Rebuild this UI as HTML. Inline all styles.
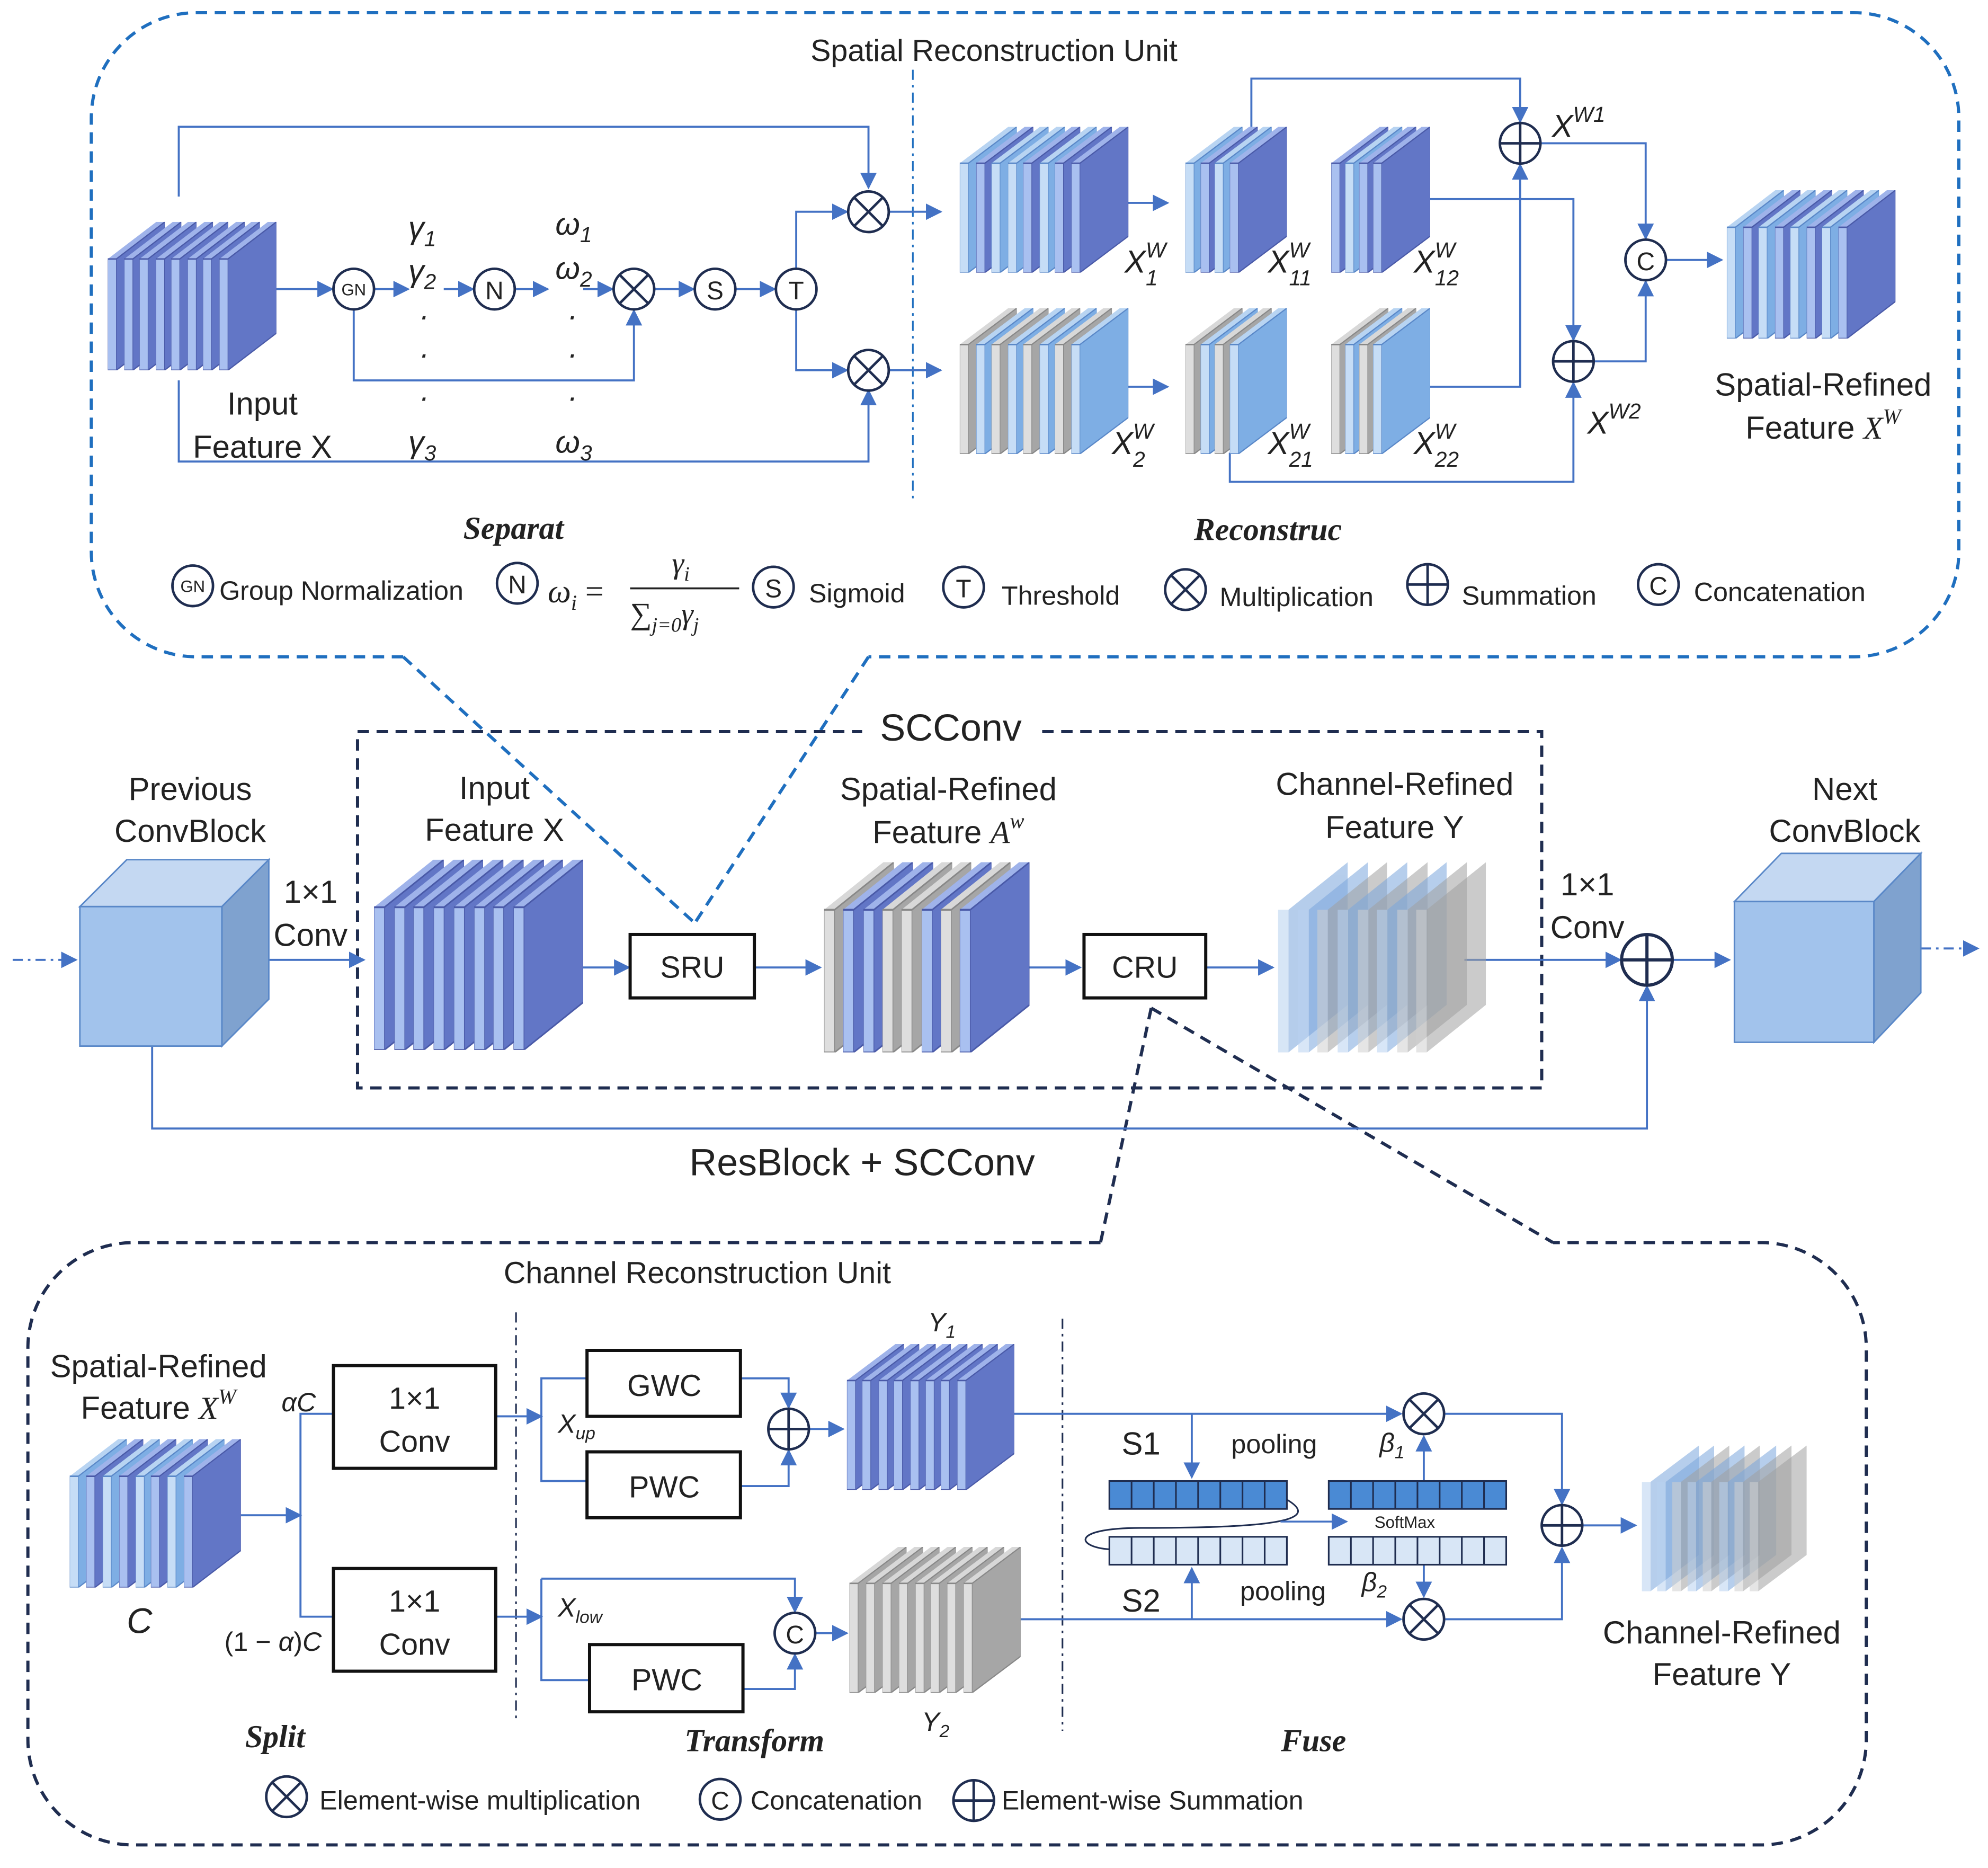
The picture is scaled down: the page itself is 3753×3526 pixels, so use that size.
<!DOCTYPE html>
<html><head><meta charset="utf-8"><style>html,body{margin:0;padding:0;background:#fff}svg{display:block}text{font-family:"Liberation Sans",sans-serif;fill:#222}.m{font-family:"Liberation Serif",serif;font-style:italic}.b{font-family:"Liberation Serif",serif;font-style:italic;font-weight:bold}</style></head><body>
<svg xmlns="http://www.w3.org/2000/svg" width="3753" height="3526" viewBox="0 0 1568 1473.2" preserveAspectRatio="none">
<defs>
<marker id="a" viewBox="0 0 10 10" refX="9" refY="5" markerWidth="13" markerHeight="13" markerUnits="userSpaceOnUse" orient="auto"><path d="M0,0L10,5L0,10z" fill="#4472c4"/></marker>
<symbol id="B" viewBox="0 0 100 100" preserveAspectRatio="none"><polygon points="0,25 85,0 100,0 15,25" fill="#9fb3ea"/><polygon points="15,25 100,0 100,75 15,100" fill="#6276c6" stroke="#4a5aa8" stroke-width="1"/><polygon points="0,25 15,25 15,100 0,100" fill="#a9c0f0" stroke="#4a5aa8" stroke-width="1"/></symbol>
<symbol id="L" viewBox="0 0 100 100" preserveAspectRatio="none"><polygon points="0,25 85,0 100,0 15,25" fill="#b8d4f2"/><polygon points="15,25 100,0 100,75 15,100" fill="#7eaee4" stroke="#5a88c8" stroke-width="1"/><polygon points="0,25 15,25 15,100 0,100" fill="#c6ddf6" stroke="#5a88c8" stroke-width="1"/></symbol>
<symbol id="G" viewBox="0 0 100 100" preserveAspectRatio="none"><polygon points="0,25 85,0 100,0 15,25" fill="#d8d8d8"/><polygon points="15,25 100,0 100,75 15,100" fill="#a6a6a6" stroke="#888" stroke-width="1"/><polygon points="0,25 15,25 15,100 0,100" fill="#dedede" stroke="#888" stroke-width="1"/></symbol>
<symbol id="T" viewBox="0 0 100 100" preserveAspectRatio="none"><g opacity="0.55"><polygon points="15,25 100,0 100,75 15,100" fill="#7aa6dc"/><polygon points="0,25 15,25 15,100 0,100" fill="#b8d2f0"/></g></symbol>
<symbol id="U" viewBox="0 0 100 100" preserveAspectRatio="none"><g opacity="0.55"><polygon points="15,25 100,0 100,75 15,100" fill="#a0a0a0"/><polygon points="0,25 15,25 15,100 0,100" fill="#d0d0d0"/></g></symbol>
<g id="ot"><circle r="16" fill="#fff" stroke="#1f2d50" stroke-width="2"/><path d="M-11,-11L11,11M11,-11L-11,11" stroke="#1f2d50" stroke-width="2"/></g>
<g id="op"><circle r="16" fill="#fff" stroke="#1f2d50" stroke-width="2"/><path d="M-16,0H16M0,-16V16" stroke="#1f2d50" stroke-width="2"/></g>
<g id="ci"><circle r="16" fill="#fff" stroke="#1f2d50" stroke-width="2"/></g>
</defs>

<!-- dashed frames -->
<g fill="none" stroke="#1f6fbf" stroke-width="2.5" stroke-dasharray="9,6">
<path d="M318,518H155A83,83 0 0 1 72,435V93A83,83 0 0 1 155,10H1462A83,83 0 0 1 1545,93V435A83,83 0 0 1 1462,518H685"/>
<path d="M318,518L548,728M685,518L548,728"/>
</g>
<g fill="none" stroke="#1f2d50" stroke-width="2.5" stroke-dasharray="9,6">
<path d="M868,980H105A83,83 0 0 0 22,1063V1372A83,83 0 0 0 105,1455H1390A83,83 0 0 0 1472,1372V1063A83,83 0 0 0 1390,980H1225"/>
<path d="M908,795L868,980M908,795L1225,980"/>
</g>
<rect x="282" y="577" width="934" height="281" fill="none" stroke="#1f2d50" stroke-width="2.5" stroke-dasharray="9,6"/>
<rect x="680" y="552" width="140" height="40" fill="#fff"/>
<text x="750" y="584" font-size="30" text-anchor="middle">SCConv</text>

<text x="784" y="48" font-size="24" text-anchor="middle">Spatial Reconstruction Unit</text>
<text x="550" y="1012" font-size="24" text-anchor="middle">Channel Reconstruction Unit</text>

<!-- dash-dot separators -->
<g stroke="#1f6fbf" stroke-width="1.3" stroke-dasharray="8,4,2,4"><path d="M720,55V395"/></g>
<g stroke="#1f2d50" stroke-width="1.3" stroke-dasharray="8,4,2,4"><path d="M407,1035V1355M838,1040V1365"/></g>

<!-- connectors -->
<g fill="none" stroke="#4472c4" stroke-width="1.6">
<!-- top SRU -->
<path d="M141,155V100H685V148" marker-end="url(#a)"/>
<path d="M141,300V364H685V308" marker-end="url(#a)"/>
<path d="M218,228H262" marker-end="url(#a)"/>
<path d="M295,228H322" marker-end="url(#a)"/>
<path d="M350,228H373" marker-end="url(#a)"/>
<path d="M407,228H432" marker-end="url(#a)"/>
<path d="M460,228H483" marker-end="url(#a)"/>
<path d="M516,228H547" marker-end="url(#a)"/>
<path d="M580,228H611" marker-end="url(#a)"/>
<path d="M279,244V300H500V245" marker-end="url(#a)"/>
<path d="M628,212V167H668" marker-end="url(#a)"/>
<path d="M628,244V292H668" marker-end="url(#a)"/>
<path d="M701,167H742" marker-end="url(#a)"/>
<path d="M701,292H742" marker-end="url(#a)"/>
<path d="M875,160H921" marker-end="url(#a)"/>
<path d="M875,305H921" marker-end="url(#a)"/>
<path d="M987,100V62H1199V96" marker-end="url(#a)"/>
<path d="M1128,157H1241V268" marker-end="url(#a)"/>
<path d="M1128,305H1199V130" marker-end="url(#a)"/>
<path d="M970,357V380H1241V302" marker-end="url(#a)"/>
<path d="M1215,113H1298V188" marker-end="url(#a)"/>
<path d="M1257,285H1298V222" marker-end="url(#a)"/>
<path d="M1314,205H1358" marker-end="url(#a)"/>
<!-- middle -->
<path d="M10,757H60" stroke-dasharray="8,4,2,4" marker-end="url(#a)"/>
<path d="M212,757H287" marker-end="url(#a)"/>
<path d="M443,763H496" marker-end="url(#a)"/>
<path d="M595,763H647" marker-end="url(#a)"/>
<path d="M797,763H852" marker-end="url(#a)"/>
<path d="M951,763H1004" marker-end="url(#a)"/>
<path d="M1155,757H1278" marker-end="url(#a)"/>
<path d="M1320,757H1364" marker-end="url(#a)"/>
<path d="M1515,748H1560" stroke-dasharray="8,4,2,4" marker-end="url(#a)"/>
<path d="M120,825V890H1299V778" marker-end="url(#a)"/>
<!-- bottom CRU -->
<path d="M190,1195H237" marker-end="url(#a)"/>
<path d="M263,1115H237V1275H263"/>
<path d="M391,1117H427" marker-end="url(#a)"/>
<path d="M391,1275H427" marker-end="url(#a)"/>
<path d="M463,1087H427V1168H463"/>
<path d="M584,1087H622V1110" marker-end="url(#a)"/>
<path d="M584,1172H622V1144" marker-end="url(#a)"/>
<path d="M638,1127H665" marker-end="url(#a)"/>
<path d="M427,1245H627V1271" marker-end="url(#a)"/>
<path d="M427,1245V1325H465"/>
<path d="M586,1332H627V1305" marker-end="url(#a)"/>
<path d="M643,1288H668" marker-end="url(#a)"/>
<path d="M800,1115H1105" marker-end="url(#a)"/>
<path d="M805,1277H1105" marker-end="url(#a)"/>
<path d="M940,1115V1165" marker-end="url(#a)"/>
<path d="M940,1277V1237" marker-end="url(#a)"/>
<path d="M1123,1168V1133" marker-end="url(#a)"/>
<path d="M1123,1234V1259" marker-end="url(#a)"/>
<path d="M1140,1115H1232V1186" marker-end="url(#a)"/>
<path d="M1140,1277H1232V1221" marker-end="url(#a)"/>
<path d="M1248,1203H1290" marker-end="url(#a)"/>
</g>
<path d="M1010,1180C1050,1200 1000,1205 900,1205C840,1205 850,1222 880,1222" fill="none" stroke="#1f2d50" stroke-width="1.3"/>
<path d="M1010,1200H1062" stroke="#4472c4" stroke-width="1.5" marker-end="url(#a)"/>

<!-- stacks -->
<g>
<use href="#B" x="85" y="175" width="45" height="117"/><use href="#B" x="98" y="175" width="45" height="117"/><use href="#B" x="110" y="175" width="45" height="117"/><use href="#B" x="123" y="175" width="45" height="117"/><use href="#B" x="135" y="175" width="45" height="117"/><use href="#B" x="148" y="175" width="45" height="117"/><use href="#B" x="160" y="175" width="45" height="117"/><use href="#B" x="173" y="175" width="45" height="117"/>

<use href="#L" x="757" y="100" width="45" height="115"/><use href="#B" x="770" y="100" width="45" height="115"/><use href="#L" x="782" y="100" width="45" height="115"/><use href="#L" x="795" y="100" width="45" height="115"/><use href="#B" x="807" y="100" width="45" height="115"/><use href="#L" x="820" y="100" width="45" height="115"/><use href="#B" x="832" y="100" width="45" height="115"/><use href="#B" x="845" y="100" width="45" height="115"/>
<use href="#L" x="935" y="100" width="45" height="115"/><use href="#B" x="947" y="100" width="45" height="115"/><use href="#L" x="958" y="100" width="45" height="115"/><use href="#B" x="970" y="100" width="45" height="115"/>
<use href="#B" x="1050" y="100" width="45" height="115"/><use href="#L" x="1061" y="100" width="45" height="115"/><use href="#B" x="1072" y="100" width="45" height="115"/><use href="#B" x="1083" y="100" width="45" height="115"/>

<use href="#G" x="757" y="243" width="45" height="115"/><use href="#L" x="770" y="243" width="45" height="115"/><use href="#G" x="782" y="243" width="45" height="115"/><use href="#L" x="795" y="243" width="45" height="115"/><use href="#G" x="807" y="243" width="45" height="115"/><use href="#L" x="820" y="243" width="45" height="115"/><use href="#G" x="832" y="243" width="45" height="115"/><use href="#L" x="845" y="243" width="45" height="115"/>
<use href="#G" x="935" y="243" width="45" height="115"/><use href="#L" x="947" y="243" width="45" height="115"/><use href="#G" x="958" y="243" width="45" height="115"/><use href="#L" x="970" y="243" width="45" height="115"/>
<use href="#G" x="1050" y="243" width="45" height="115"/><use href="#L" x="1061" y="243" width="45" height="115"/><use href="#G" x="1072" y="243" width="45" height="115"/><use href="#L" x="1083" y="243" width="45" height="115"/>

<use href="#L" x="1362" y="150" width="45" height="117"/><use href="#B" x="1375" y="150" width="45" height="117"/><use href="#L" x="1387" y="150" width="45" height="117"/><use href="#B" x="1400" y="150" width="45" height="117"/><use href="#L" x="1412" y="150" width="45" height="117"/><use href="#B" x="1425" y="150" width="45" height="117"/><use href="#L" x="1437" y="150" width="45" height="117"/><use href="#B" x="1450" y="150" width="45" height="117"/>

<use href="#B" x="295" y="678" width="55" height="150"/><use href="#B" x="311" y="678" width="55" height="150"/><use href="#B" x="326" y="678" width="55" height="150"/><use href="#B" x="342" y="678" width="55" height="150"/><use href="#B" x="358" y="678" width="55" height="150"/><use href="#B" x="374" y="678" width="55" height="150"/><use href="#B" x="389" y="678" width="55" height="150"/><use href="#B" x="405" y="678" width="55" height="150"/>

<use href="#G" x="650" y="680" width="55" height="150"/><use href="#B" x="665" y="680" width="55" height="150"/><use href="#B" x="681" y="680" width="55" height="150"/><use href="#G" x="696" y="680" width="55" height="150"/><use href="#G" x="711" y="680" width="55" height="150"/><use href="#B" x="727" y="680" width="55" height="150"/><use href="#G" x="742" y="680" width="55" height="150"/><use href="#B" x="757" y="680" width="55" height="150"/>

<use href="#T" x="1008" y="680" width="55" height="150"/><use href="#T" x="1024" y="680" width="55" height="150"/><use href="#U" x="1039" y="680" width="55" height="150"/><use href="#T" x="1055" y="680" width="55" height="150"/><use href="#U" x="1071" y="680" width="55" height="150"/><use href="#T" x="1086" y="680" width="55" height="150"/><use href="#U" x="1102" y="680" width="55" height="150"/><use href="#U" x="1117" y="680" width="55" height="150"/>

<use href="#L" x="55" y="1135" width="45" height="117"/><use href="#B" x="68" y="1135" width="45" height="117"/><use href="#L" x="81" y="1135" width="45" height="117"/><use href="#B" x="94" y="1135" width="45" height="117"/><use href="#L" x="107" y="1135" width="45" height="117"/><use href="#B" x="119" y="1135" width="45" height="117"/><use href="#L" x="132" y="1135" width="45" height="117"/><use href="#B" x="145" y="1135" width="45" height="117"/>

<use href="#B" x="668" y="1060" width="45" height="115"/><use href="#B" x="680" y="1060" width="45" height="115"/><use href="#B" x="693" y="1060" width="45" height="115"/><use href="#B" x="705" y="1060" width="45" height="115"/><use href="#B" x="718" y="1060" width="45" height="115"/><use href="#B" x="730" y="1060" width="45" height="115"/><use href="#B" x="742" y="1060" width="45" height="115"/><use href="#B" x="755" y="1060" width="45" height="115"/>

<use href="#G" x="670" y="1220" width="45" height="115"/><use href="#G" x="683" y="1220" width="45" height="115"/><use href="#G" x="696" y="1220" width="45" height="115"/><use href="#G" x="709" y="1220" width="45" height="115"/><use href="#G" x="722" y="1220" width="45" height="115"/><use href="#G" x="734" y="1220" width="45" height="115"/><use href="#G" x="747" y="1220" width="45" height="115"/><use href="#G" x="760" y="1220" width="45" height="115"/>

<use href="#T" x="1295" y="1140" width="45" height="115"/><use href="#T" x="1307" y="1140" width="45" height="115"/><use href="#U" x="1319" y="1140" width="45" height="115"/><use href="#T" x="1331" y="1140" width="45" height="115"/><use href="#U" x="1343" y="1140" width="45" height="115"/><use href="#T" x="1356" y="1140" width="45" height="115"/><use href="#U" x="1368" y="1140" width="45" height="115"/><use href="#U" x="1380" y="1140" width="45" height="115"/>
</g>

<!-- cubes -->
<g stroke="#5a88c8" stroke-width="1.2">
<polygon points="63,715 100,678 212,678 175,715" fill="#c4d8f2"/>
<polygon points="175,715 212,678 212,788 175,825" fill="#7fa2cf"/>
<rect x="63" y="715" width="112" height="110" fill="#a2c3ec"/>
<polygon points="1368,711 1405,673 1515,673 1478,711" fill="#c4d8f2"/>
<polygon points="1478,711 1515,673 1515,783 1478,822" fill="#7fa2cf"/>
<rect x="1368" y="711" width="110" height="111" fill="#a2c3ec"/>
</g>

<!-- boxes -->
<g fill="#fff" stroke="#111" stroke-width="2.5">
<rect x="497" y="737" width="98" height="50"/><rect x="855" y="737" width="96" height="50"/>
<rect x="263" y="1077" width="128" height="81"/><rect x="263" y="1237" width="128" height="81"/>
<rect x="463" y="1065" width="121" height="52"/><rect x="463" y="1145" width="121" height="52"/>
<rect x="465" y="1297" width="121" height="53"/>
</g>
<g font-size="24" text-anchor="middle">
<text x="546" y="771">SRU</text><text x="903" y="771">CRU</text>
<text x="327" y="1111">1×1</text><text x="327" y="1145">Conv</text>
<text x="327" y="1271">1×1</text><text x="327" y="1305">Conv</text>
<text x="524" y="1101">GWC</text><text x="524" y="1181">PWC</text><text x="526" y="1333">PWC</text>
</g>

<!-- vectors -->
<g stroke="#1f2d50" stroke-width="1.3">
<rect x="875" y="1168" width="140" height="22" fill="#4a8ad4"/><rect x="1048" y="1168" width="140" height="22" fill="#4a8ad4"/>
<rect x="875" y="1212" width="140" height="22" fill="#d8e6f6"/><rect x="1048" y="1212" width="140" height="22" fill="#d8e6f6"/>
<path d="M892.5,1168v22M910,1168v22M927.5,1168v22M945,1168v22M962.5,1168v22M980,1168v22M997.5,1168v22M892.5,1212v22M910,1212v22M927.5,1212v22M945,1212v22M962.5,1212v22M980,1212v22M997.5,1212v22M1065.5,1168v22M1083,1168v22M1100.5,1168v22M1118,1168v22M1135.5,1168v22M1153,1168v22M1170.5,1168v22M1065.5,1212v22M1083,1212v22M1100.5,1212v22M1118,1212v22M1135.5,1212v22M1153,1212v22M1170.5,1212v22"/>
</g>
<text x="1108" y="1205" font-size="13" text-anchor="middle">SoftMax</text>

<!-- operators -->
<use href="#ci" x="279" y="228"/><text x="279" y="233" font-size="13" text-anchor="middle">GN</text>
<use href="#ci" x="390" y="228"/><text x="390" y="236" font-size="20" text-anchor="middle">N</text>
<use href="#ot" x="500" y="228"/>
<use href="#ci" x="564" y="228"/><text x="564" y="236" font-size="20" text-anchor="middle">S</text>
<use href="#ci" x="628" y="228"/><text x="628" y="236" font-size="20" text-anchor="middle">T</text>
<use href="#ot" x="685" y="167"/><use href="#ot" x="685" y="292"/>
<use href="#op" x="1199" y="113"/><use href="#op" x="1241" y="285"/>
<use href="#ci" x="1298" y="205"/><text x="1298" y="213" font-size="20" text-anchor="middle">C</text>
<g transform="translate(1299,757) scale(1.25)"><use href="#op"/></g>
<use href="#op" x="622" y="1127"/>
<use href="#ci" x="627" y="1288"/><text x="627" y="1296" font-size="20" text-anchor="middle">C</text>
<use href="#ot" x="1123" y="1115"/><use href="#ot" x="1123" y="1277"/>
<use href="#op" x="1232" y="1203"/>

<!-- legend top -->
<use href="#ci" x="152" y="462"/><text x="152" y="467" font-size="13" text-anchor="middle">GN</text>
<text x="173" y="473" font-size="21">Group Normalization</text>
<use href="#ci" x="408" y="460"/><text x="408" y="468" font-size="20" text-anchor="middle">N</text>
<text x="432" y="475" font-size="26" class="m">ω<tspan font-size="17" dy="6">i</tspan><tspan dy="-6" font-style="normal"> =</tspan></text>
<path d="M497,464H583" stroke="#222" stroke-width="1.5"/>
<text x="530" y="452" font-size="24" class="m">γ<tspan font-size="16" dy="6">i</tspan></text>
<text x="497" y="492" font-size="24" class="m"><tspan font-style="normal">∑</tspan><tspan font-size="16" dy="6">j=0</tspan><tspan dy="-6">γ</tspan><tspan font-size="16" dy="6">j</tspan></text>
<use href="#ci" x="610" y="463"/><text x="610" y="471" font-size="20" text-anchor="middle">S</text>
<text x="638" y="475" font-size="21">Sigmoid</text>
<use href="#ci" x="760" y="463"/><text x="760" y="471" font-size="20" text-anchor="middle">T</text>
<text x="790" y="477" font-size="21">Threshold</text>
<use href="#ot" x="935" y="465"/><text x="962" y="478" font-size="21">Multiplication</text>
<use href="#op" x="1126" y="461"/><text x="1153" y="477" font-size="21">Summation</text>
<use href="#ci" x="1308" y="461"/><text x="1308" y="469" font-size="20" text-anchor="middle">C</text>
<text x="1336" y="474" font-size="21">Concatenation</text>

<!-- legend bottom -->
<use href="#ot" x="226" y="1417"/><text x="252" y="1427" font-size="21">Element-wise  multiplication</text>
<use href="#ci" x="568" y="1419"/><text x="568" y="1427" font-size="20" text-anchor="middle">C</text>
<text x="592" y="1427" font-size="21">Concatenation</text>
<use href="#op" x="768" y="1420"/><text x="790" y="1427" font-size="21">Element-wise  Summation</text>

<!-- top labels -->
<g font-size="25" class="m">
<text x="322" y="188">γ<tspan font-size="17" dy="6">1</tspan></text>
<text x="322" y="222">γ<tspan font-size="17" dy="6">2</tspan></text>
<text x="322" y="357">γ<tspan font-size="17" dy="6">3</tspan></text>
<text x="438" y="185">ω<tspan font-size="17" dy="6">1</tspan></text>
<text x="438" y="220">ω<tspan font-size="17" dy="6">2</tspan></text>
<text x="438" y="357">ω<tspan font-size="17" dy="6">3</tspan></text>
<text x="887" y="215">X<tspan font-size="17" dy="-12">W</tspan><tspan font-size="17" dx="-16" dy="22">1</tspan></text>
<text x="1000" y="215">X<tspan font-size="17" dy="-12">W</tspan><tspan font-size="17" dx="-16" dy="22">11</tspan></text>
<text x="1115" y="215">X<tspan font-size="17" dy="-12">W</tspan><tspan font-size="17" dx="-16" dy="22">12</tspan></text>
<text x="877" y="358">X<tspan font-size="17" dy="-12">W</tspan><tspan font-size="17" dx="-16" dy="22">2</tspan></text>
<text x="1000" y="358">X<tspan font-size="17" dy="-12">W</tspan><tspan font-size="17" dx="-16" dy="22">21</tspan></text>
<text x="1115" y="358">X<tspan font-size="17" dy="-12">W</tspan><tspan font-size="17" dx="-16" dy="22">22</tspan></text>
<text x="1224" y="108">X<tspan font-size="17" dy="-12">W1</tspan></text>
<text x="1252" y="342">X<tspan font-size="17" dy="-12">W2</tspan></text>
</g>
<g font-size="24" fill="#222" class="m" font-style="normal">
<text x="332" y="252">.</text><text x="332" y="282">.</text><text x="332" y="316">.</text>
<text x="449" y="252">.</text><text x="449" y="282">.</text><text x="449" y="316">.</text>
</g>
<g font-size="25" text-anchor="middle">
<text x="207" y="327">Input</text><text x="207" y="361">Feature X</text>
<text x="1438" y="312">Spatial-Refined</text><text x="1438" y="346">Feature <tspan class="m">X</tspan><tspan class="m" font-size="17" dy="-12">W</tspan></text>
</g>
<text x="405" y="425" font-size="25" class="b" text-anchor="middle">Separat</text>
<text x="1000" y="426" font-size="25" class="b" text-anchor="middle">Reconstruc</text>

<!-- middle labels -->
<g font-size="25" text-anchor="middle">
<text x="150" y="631">Previous</text><text x="150" y="664">ConvBlock</text>
<text x="245" y="712">1×1</text><text x="245" y="746">Conv</text>
<text x="390" y="630">Input</text><text x="390" y="663">Feature X</text>
<text x="748" y="631">Spatial-Refined</text><text x="748" y="665">Feature <tspan class="m">A</tspan><tspan class="m" font-size="17" dy="-12">w</tspan></text>
<text x="1100" y="627">Channel-Refined</text><text x="1100" y="661">Feature Y</text>
<text x="1455" y="631">Next</text><text x="1455" y="664">ConvBlock</text>
<text x="1252" y="706">1×1</text><text x="1252" y="740">Conv</text>
<text x="680" y="927" font-size="30">ResBlock + SCConv</text>
</g>

<!-- bottom labels -->
<g font-size="25" text-anchor="middle">
<text x="125" y="1086">Spatial-Refined</text><text x="125" y="1119">Feature <tspan class="m">X</tspan><tspan class="m" font-size="17" dy="-12">W</tspan></text>
<text x="1358" y="1296">Channel-Refined</text><text x="1358" y="1329">Feature Y</text>
<text x="900" y="1147">S1</text><text x="900" y="1271">S2</text>
<text x="1005" y="1146" font-size="21">pooling</text><text x="1012" y="1262" font-size="21">pooling</text>
</g>
<g class="m" font-size="21">
<text x="110" y="1288" font-size="28" text-anchor="middle">C</text>
<text x="222" y="1113">αC</text>
<text x="177" y="1302" font-style="normal" font-family="Liberation Serif">(1 − <tspan font-style="italic">α</tspan>)<tspan font-style="italic">C</tspan></text>
<text x="440" y="1130">X<tspan font-size="14" dy="5">up</tspan></text>
<text x="440" y="1275">X<tspan font-size="14" dy="5">low</tspan></text>
<text x="732" y="1050">Y<tspan font-size="14" dy="5">1</tspan></text>
<text x="727" y="1365">Y<tspan font-size="14" dy="5">2</tspan></text>
<text x="1088" y="1145">β<tspan font-size="14" dy="5">1</tspan></text>
<text x="1074" y="1255">β<tspan font-size="14" dy="5">2</tspan></text>
</g>
<text x="217" y="1378" font-size="25" class="b" text-anchor="middle">Split</text>
<text x="595" y="1381" font-size="25" class="b" text-anchor="middle">Transform</text>
<text x="1036" y="1381" font-size="25" class="b" text-anchor="middle">Fuse</text>
</svg>
</body></html>
